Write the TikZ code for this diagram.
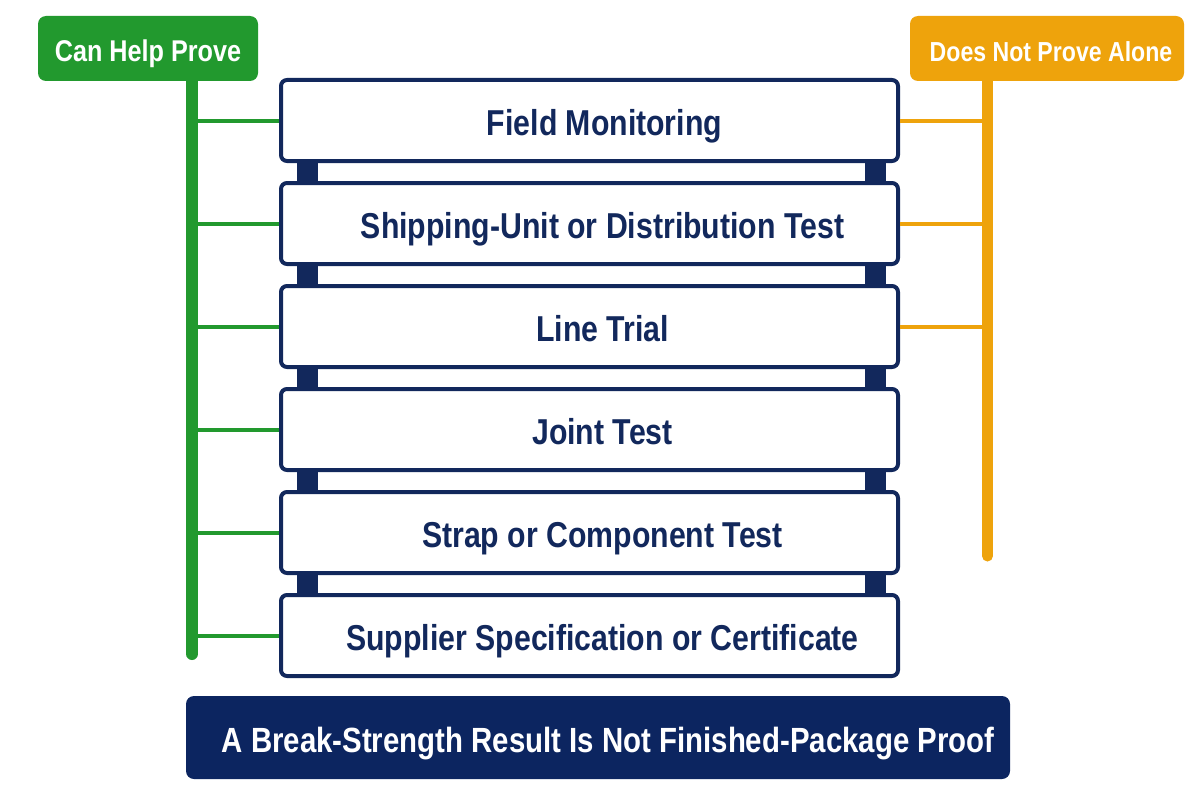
\documentclass[tikz,border=0pt]{standalone}
\usepackage{fontspec}
\setmainfont{Liberation Sans}[FakeStretch=0.84]
\definecolor{navy}{HTML}{12285C}
\definecolor{provegreen}{HTML}{22992E}
\definecolor{alonegold}{HTML}{EEA30C}
\definecolor{bannerblue}{HTML}{0C2560}
\begin{document}
\begin{tikzpicture}[x=1pt, y=-1pt,
	layer/.style={draw=navy, line width=4pt, rounded corners=6pt, fill=white,
		minimum width=617pt, minimum height=81pt, inner sep=0pt},
	layertext/.style={text=navy, font=\fontsize{36}{40}\selectfont\bfseries, inner sep=0pt,
		text height=29pt, text depth=0pt},
	tag/.style={rounded corners=8pt, minimum height=65pt, text=white, inner sep=0pt,
		text height=26.5pt, text depth=0pt},
	trunk/.style={line width=12pt, line cap=round},
	branch/.style={line width=4pt}]
			\fill[white] (0,0) rectangle (1200,800);
			\useasboundingbox (0,0) rectangle (1200,800);
			\coordinate (gtop) at (192,78);
			\coordinate (gend) at (192,654);
			\coordinate (otop) at (987.5,78);
			\coordinate (oend) at (987.5,556);
			\draw[trunk, provegreen] (gtop) -- (gend);
			\draw[trunk, alonegold, line width=11pt] (otop) -- (oend);
			\node[layer] (b1) at (589.5,120.5) {};
			\node[layer] (b2) at (589.5,223.5) {};
			\node[layer] (b3) at (589.5,326.5) {};
			\node[layer] (b4) at (589.5,429.5) {};
			\node[layer] (b5) at (589.5,532.5) {};
			\node[layer] (b6) at (589.5,635.5) {};
			\fill[navy] ([xshift=18pt]b1.south west) rectangle ([xshift=39pt]b2.north west);
			\fill[navy] ([xshift=18pt]b2.south west) rectangle ([xshift=39pt]b3.north west);
			\fill[navy] ([xshift=18pt]b3.south west) rectangle ([xshift=39pt]b4.north west);
			\fill[navy] ([xshift=18pt]b4.south west) rectangle ([xshift=39pt]b5.north west);
			\fill[navy] ([xshift=18pt]b5.south west) rectangle ([xshift=39pt]b6.north west);
			\fill[navy] ([xshift=-35pt]b1.south east) rectangle ([xshift=-14pt]b2.north east);
			\fill[navy] ([xshift=-35pt]b2.south east) rectangle ([xshift=-14pt]b3.north east);
			\fill[navy] ([xshift=-35pt]b3.south east) rectangle ([xshift=-14pt]b4.north east);
			\fill[navy] ([xshift=-35pt]b4.south east) rectangle ([xshift=-14pt]b5.north east);
			\fill[navy] ([xshift=-35pt]b5.south east) rectangle ([xshift=-14pt]b6.north east);
			\node[layertext] (t1) at ([xshift=15pt]b1.center) {Field Monitoring};
			\node[layertext] (t2) at ([xshift=13pt]b2.center) {Shipping-Unit or Distribution Test};
			\node[layertext] (t3) at ([xshift=13pt]b3.center) {Line Trial};
			\node[layertext] (t4) at ([xshift=13pt]b4.center) {Joint Test};
			\node[layertext] (t5) at ([xshift=13pt]b5.center) {Strap or Component Test};
			\node[layertext] (t6) at ([xshift=13pt]b6.center) {Supplier Specification or Certificate};
			\draw[branch, provegreen] (b1.west -| gtop) -- (b1.west);
			\draw[branch, provegreen] (b2.west -| gtop) -- (b2.west);
			\draw[branch, provegreen] (b3.west -| gtop) -- (b3.west);
			\draw[branch, provegreen] (b4.west -| gtop) -- (b4.west);
			\draw[branch, provegreen] (b5.west -| gtop) -- (b5.west);
			\draw[branch, provegreen] (b6.west -| gtop) -- (b6.west);
			\draw[branch, alonegold] (b1.east) -- (b1.east -| otop);
			\draw[branch, alonegold] (b2.east) -- (b2.east -| otop);
			\draw[branch, alonegold] (b3.east) -- (b3.east -| otop);
			\node[tag, fill=provegreen, minimum width=220pt,
				font=\fontsize{30}{34}\selectfont\bfseries] (canhelp) at (148,48.5) {Can Help Prove};
			\node[tag, fill=alonegold, minimum width=274pt,
				font=\fontsize{27.5}{32}\selectfont\bfseries] (notalone) at (1047,48.5) {\hspace{8pt}Does Not Prove Alone};
			\node[tag, fill=bannerblue, minimum width=824pt, minimum height=83pt] (verdict) at (598,737.5) {};
			\node[text=white, font=\fontsize{35}{40}\selectfont\bfseries, inner sep=0pt,
				text height=29pt, text depth=0pt] (verdicttext)
				at ([xshift=10pt]verdict.center) {A Break-Strength Result Is Not Finished-Package Proof};
			\end{tikzpicture}
\end{document}
